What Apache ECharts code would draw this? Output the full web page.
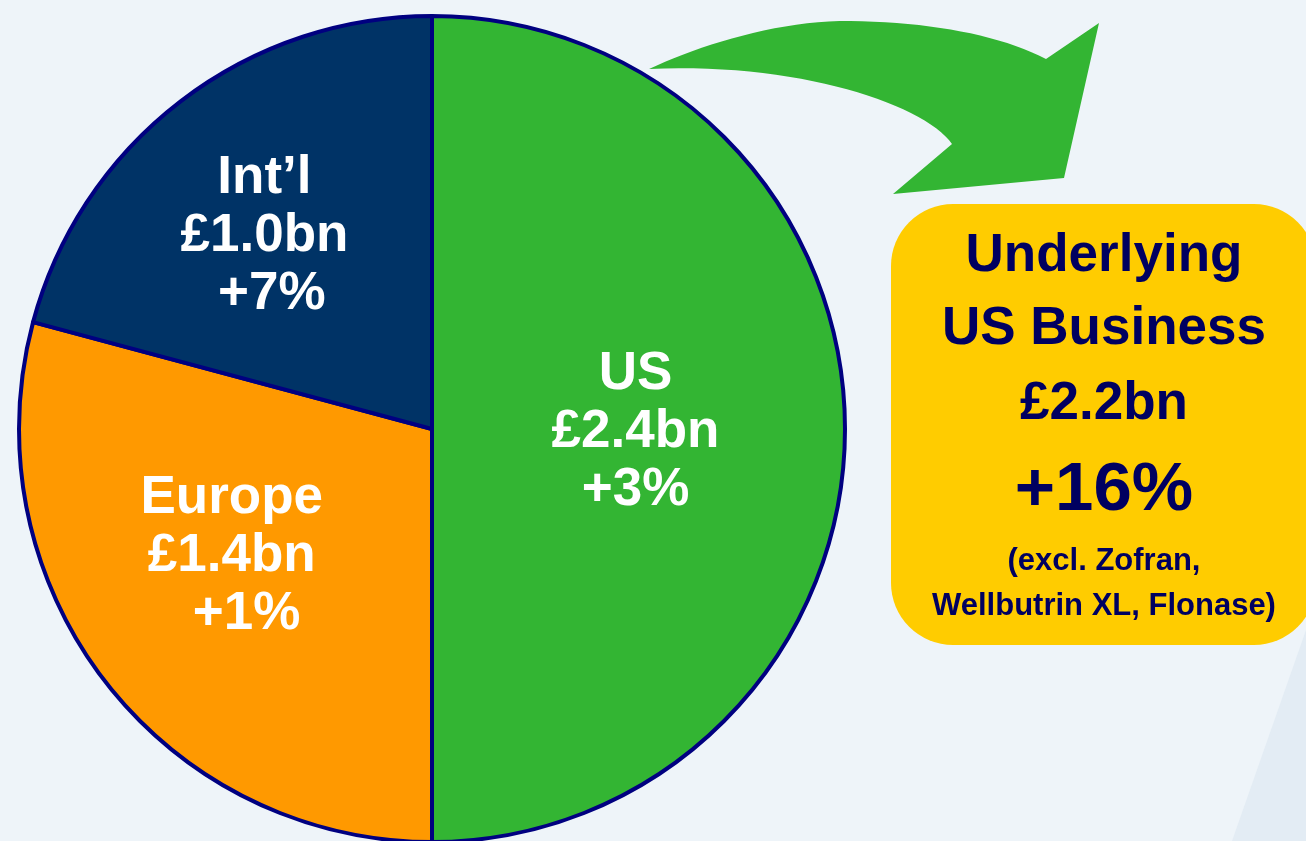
<!DOCTYPE html>
<html>
<head>
<meta charset="utf-8">
<script src="https://cdn.jsdelivr.net/npm/echarts@6/dist/echarts.min.js"></script>
<style>
  html, body { margin: 0; padding: 0; background: #EEF4F9; }
  #chart { width: 1306px; height: 841px; }
</style>
</head>
<body>
<div id="chart"></div>
<script>
// regions, sales (£bn) and growth
var regions = ['US', 'Europe', 'Int’l'];
var sales = [2.4, 1.4, 1.0];
var growth = ['+3%', '  +1%', ' +7%'];
var sliceColors = ['#33B533', '#FF9900', '#003366'];

// callout box text
var boxLines = ['Underlying', 'US Business', '£2.2bn', '+16%', '(excl. Zofran,', 'Wellbutrin XL, Flonase)'];
var boxSizes = [53, 53, 53, 69, 31, 31];
var boxY = [256, 329, 404, 491, 561, 606];

// label nudges so the text sits like in the slide
var labelShift = [[-6, 3], [-34, 0], [-40, -26]];

var FONT = '"Liberation Sans", Arial, sans-serif';
var TEXT_DARK = '#000060';

var myChart = echarts.init(document.getElementById('chart'));

var pieData = regions.map(function (name, i) {
  return { name: name, value: sales[i], itemStyle: { color: sliceColors[i] } };
});

// sample a cubic bezier into points (for the arrow outline)
function cubic(p0, p1, p2, p3, n) {
  var pts = [];
  for (var k = 1; k <= n; k++) {
    var t = k / n, u = 1 - t;
    pts.push([
      u * u * u * p0[0] + 3 * u * u * t * p1[0] + 3 * u * t * t * p2[0] + t * t * t * p3[0],
      u * u * u * p0[1] + 3 * u * u * t * p1[1] + 3 * u * t * t * p2[1] + t * t * t * p3[1]
    ]);
  }
  return pts;
}

var arrowPts = [[649, 69]]
  .concat(cubic([649, 69], [700, 45], [780, 20], [850, 21], 20))
  .concat(cubic([850, 21], [930, 22], [1000, 35], [1046, 59], 20))
  .concat([[1099, 23], [1064, 178], [893, 194], [952, 144]])
  .concat(cubic([952, 144], [925, 105], [800, 62], [649, 69], 30));

var boxTexts = boxLines.map(function (t, i) {
  return {
    type: 'text',
    z: 20,
    style: {
      text: t,
      x: 1104,
      y: boxY[i],
      fill: TEXT_DARK,
      font: 'bold ' + boxSizes[i] + 'px ' + FONT,
      textAlign: 'center',
      textVerticalAlign: 'middle'
    }
  };
});

myChart.setOption({
  backgroundColor: '#EEF4F9',
  animation: false,
  graphic: [
    // faint diagonal in the corner
    {
      type: 'polygon', z: 1,
      shape: { points: [[1306, 630], [1306, 841], [1232, 841]] },
      style: { fill: '#E3ECF4' }
    },
    // curved arrow
    {
      type: 'polygon', z: 5,
      shape: { points: arrowPts },
      style: { fill: '#33B533' }
    },
    // yellow box
    {
      type: 'rect', z: 10,
      shape: { x: 891, y: 204, width: 425, height: 441, r: 62 },
      style: { fill: '#FFCC00' }
    }
  ].concat(boxTexts),
  series: [{
    type: 'pie',
    center: [432, 429],
    radius: [0, 413],
    startAngle: 90,
    clockwise: true,
    avoidLabelOverlap: false,
    silent: true,
    itemStyle: { borderColor: '#000080', borderWidth: 4 },
    label: {
      show: true,
      position: 'inside',
      color: '#FFFFFF',
      fontFamily: FONT,
      fontWeight: 'bold',
      fontSize: 53,
      lineHeight: 58,
      align: 'center',
      formatter: function (p) {
        return p.name + '\n£' + p.value.toFixed(1) + 'bn\n' + growth[p.dataIndex];
      }
    },
    labelLine: { show: false },
    labelLayout: function (p) {
      var s = labelShift[p.dataIndex];
      return { dx: s[0], dy: s[1] };
    },
    data: pieData
  }]
});
</script>
</body>
</html>
